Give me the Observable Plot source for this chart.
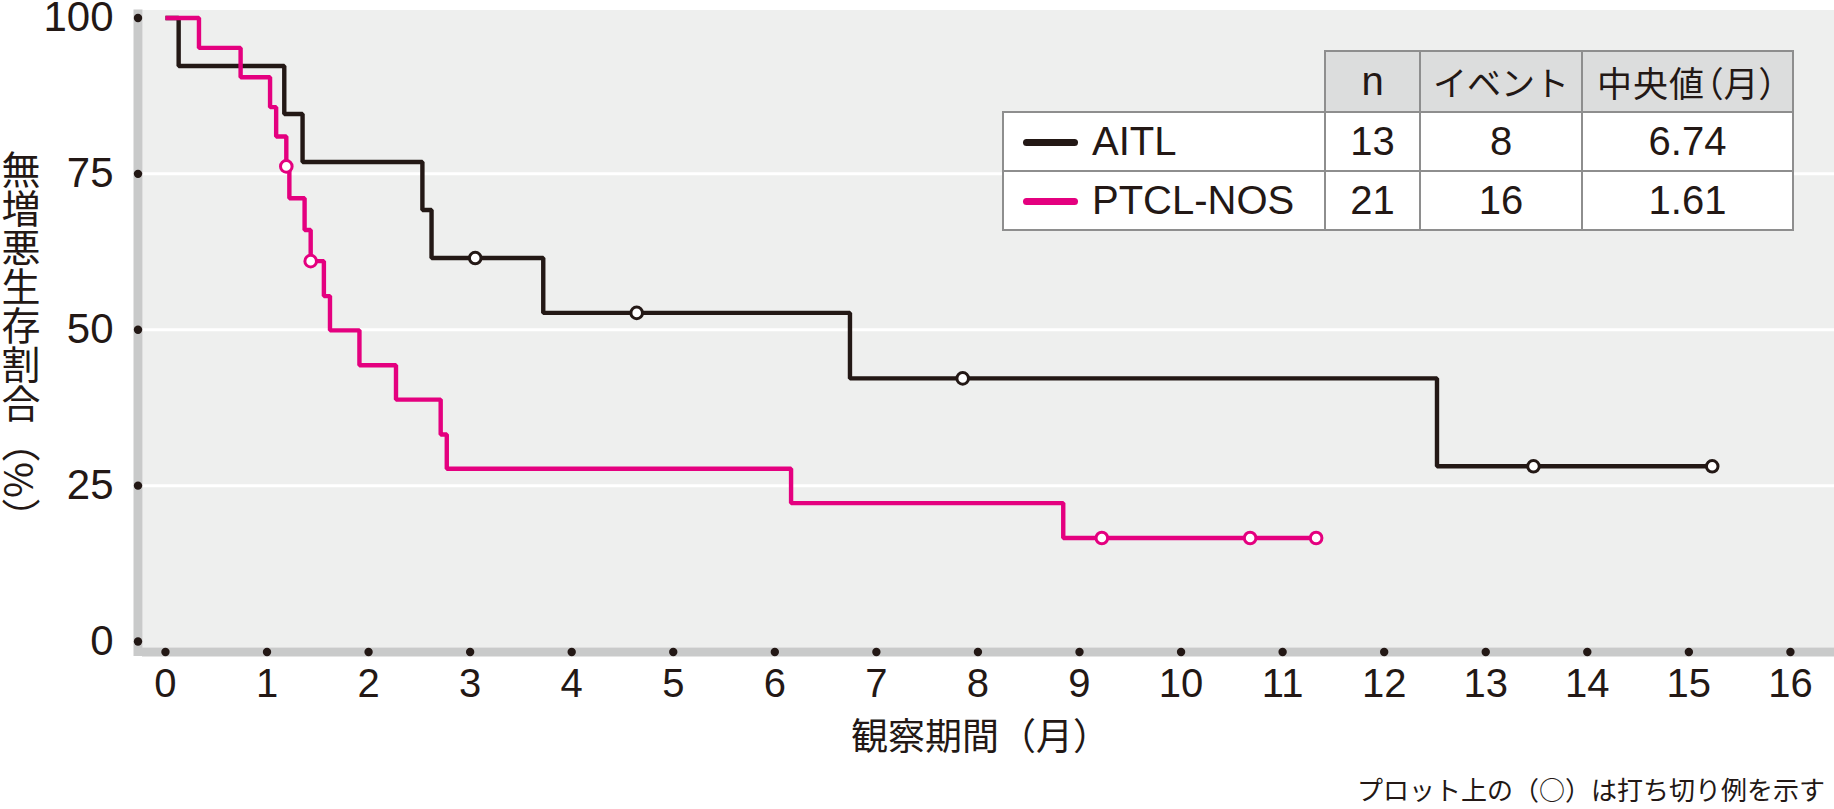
<!DOCTYPE html>
<html>
<head>
<meta charset="utf-8">
<script src="https://cdn.jsdelivr.net/npm/d3@7"></script>
<script src="https://cdn.jsdelivr.net/npm/@observablehq/plot@0.6"></script>
<style>
html, body { margin: 0; padding: 0; background: #fff; }
#wrap { position: relative; width: 1834px; height: 809px; overflow: hidden;
  font-family: "Liberation Sans", "Noto Sans CJK JP", sans-serif; color: #231815; }
#chart svg { display: block; overflow: visible; }
#ylabel { position: absolute; left: 0px; top: 150px; width: 40px; font-size: 39px; line-height: 39px;
  writing-mode: vertical-rl; text-orientation: mixed; font-family: "Noto Sans CJK JP", sans-serif; }
#caption { position: absolute; right: 9px; top: 774px; font-size: 26px; line-height: 30px;
  font-family: "Noto Sans CJK JP", sans-serif; }
#legend { position: absolute; left: 1002px; top: 50px; border-collapse: collapse; table-layout: fixed; }
#legend td, #legend th { border: 2px solid #8e8e8e; padding: 0; text-align: center; font-weight: normal;
  font-size: 40px; color: #231815; box-sizing: border-box; }
#legend th { background: #dcdddd; height: 61px; }
#legend th.cjk { font-family: "Noto Sans CJK JP", sans-serif; font-size: 34px; }
#legend th.cjk.paren { font-size: 35px; font-feature-settings: "palt" 1; letter-spacing: 1px; }
#legend td { background: #fff; height: 59px; }
#legend td.blank { background: transparent; border: none; }
#legend td.lab { text-align: left; padding-left: 19px; }
#legend .sw { display: inline-block; width: 55px; height: 7px; border-radius: 4px; margin-right: 14px; vertical-align: middle; position: relative; top: -2px; }
</style>
</head>
<body>
<div id="wrap">
  <div id="chart"></div>
  <div id="ylabel"></div>
  <div id="caption"></div>
</div>
<script>
// ---- data ----
const xTicks = [0,1,2,3,4,5,6,7,8,9,10,11,12,13,14,15,16];
const yTicks = [0,25,50,75,100];
const gridValues = [25,50,75];
const groups = ["AITL", "PTCL-NOS"];
const colors = ["#231815", "#e4007f"];

// AITL Kaplan-Meier steps (time in months, survival %)
const aitlTime = [0, 0.13, 1.17, 1.35, 2.53, 2.62, 3.72, 6.74, 12.52, 15.23];
const aitlSurv = [100, 92.3, 84.6, 76.9, 69.2, 61.5, 52.7, 42.2, 28.1, 28.1];
const aitlCensorTime = [3.05, 4.64, 7.85, 13.47, 15.23];
const aitlCensorSurv = [61.5, 52.7, 42.2, 28.1, 28.1];

// PTCL-NOS Kaplan-Meier steps
const ptclTime = [0, 0.33, 0.74, 1.03, 1.09, 1.19, 1.22, 1.37, 1.43, 1.56, 1.62, 1.91, 2.27, 2.71, 2.77, 6.16, 8.84, 11.33];
const ptclSurv = [100, 95.2, 90.5, 85.7, 81.0, 76.2, 71.1, 66.0, 61.0, 55.4, 49.9, 44.3, 38.8, 33.2, 27.7, 22.2, 16.6, 16.6];
const ptclCensorTime = [1.19, 1.43, 9.22, 10.68, 11.33];
const ptclCensorSurv = [76.2, 61.0, 16.6, 16.6, 16.6];

// legend table
const tableHeaders = ["n", "イベント", "中央値（月）"];
const nPatients = [13, 21];
const nEvents = [8, 16];
const medians = ["6.74", "1.61"];

const xLabel = "観察期間（月）";
const yLabel = "無増悪生存割合（%）";
const caption = "プロット上の（○）は打ち切り例を示す";

// ---- build ----
const xDomain = [-0.226, 16.434];
const yDomain = [-0.96, 101.28];

const aitlSteps = aitlTime.map((t, i) => ({group: groups[0], time: t, surv: aitlSurv[i]}));
const ptclSteps = ptclTime.map((t, i) => ({group: groups[1], time: t, surv: ptclSurv[i]}));
const aitlCens = aitlCensorTime.map((t, i) => ({group: groups[0], time: t, surv: aitlCensorSurv[i]}));
const ptclCens = ptclCensorTime.map((t, i) => ({group: groups[1], time: t, surv: ptclCensorSurv[i]}));

const chart = Plot.plot({
  width: 1834,
  height: 765,
  marginLeft: 142,
  marginRight: 0,
  marginTop: 9.5,
  marginBottom: 118,
  style: {background: "white", fontFamily: "'Liberation Sans', 'Noto Sans CJK JP', sans-serif", color: "#231815", overflow: "visible"},
  x: {domain: xDomain},
  y: {domain: yDomain},
  marks: [
    Plot.frame({fill: "#eeefee", stroke: "none"}),
    Plot.ruleY(gridValues, {stroke: "#ffffff", strokeWidth: 3}),
    Plot.ruleX([xDomain[0]], {stroke: "#c9caca", strokeWidth: 9, dx: -4.5, insetBottom: -9}),
    Plot.ruleY([yDomain[0]], {stroke: "#c9caca", strokeWidth: 9, dy: 4.5}),
    Plot.dot(yTicks, {y: d => d, frameAnchor: "left", dx: -4.5, r: 4.2, fill: "#231815", stroke: "none"}),
    Plot.dot(xTicks, {x: d => d, frameAnchor: "bottom", dy: 4.5, r: 4.2, fill: "#231815", stroke: "none"}),
    Plot.line(aitlSteps, {x: "time", y: "surv", curve: "step-after", stroke: colors[0], strokeWidth: 4.4, strokeLinejoin: "miter", strokeLinecap: "butt"}),
    Plot.line(ptclSteps, {x: "time", y: "surv", curve: "step-after", stroke: colors[1], strokeWidth: 4.4, strokeLinejoin: "miter", strokeLinecap: "butt"}),
    Plot.dot(aitlCens, {x: "time", y: "surv", r: 5.8, fill: "white", stroke: colors[0], strokeWidth: 3}),
    Plot.dot(ptclCens, {x: "time", y: "surv", r: 5.8, fill: "white", stroke: colors[1], strokeWidth: 3}),
    Plot.axisX({ticks: xTicks, tickSize: 0, tickPadding: 21, fontSize: 40, label: null, tickFormat: d => String(d)}),
    Plot.axisY({ticks: yTicks, tickSize: 0, tickPadding: 29, fontSize: 42, label: null, tickFormat: d => String(d)}),
    Plot.text([xLabel], {frameAnchor: "bottom", dy: 102, dx: -8, fontSize: 37, fill: "#231815", fontFamily: "'Noto Sans CJK JP', sans-serif"})
  ]
});
document.getElementById("chart").appendChild(chart);
document.getElementById("ylabel").textContent = yLabel;
document.getElementById("caption").textContent = caption;

// legend table
const table = document.createElement("table");
table.id = "legend";
const colWidths = [322, 95, 162, 211];
const cg = document.createElement("colgroup");
colWidths.forEach(w => { const c = document.createElement("col"); c.style.width = w + "px"; cg.appendChild(c); });
table.appendChild(cg);
const hr = document.createElement("tr");
const blank = document.createElement("td"); blank.className = "blank"; hr.appendChild(blank);
tableHeaders.forEach(h => {
  const th = document.createElement("th");
  th.textContent = h;
  if (/[^\x00-\x7f]/.test(h)) th.className = "cjk" + (/（/.test(h) ? " paren" : "");
  hr.appendChild(th);
});
table.appendChild(hr);
groups.forEach((g, i) => {
  const tr = document.createElement("tr");
  const lab = document.createElement("td"); lab.className = "lab";
  const sw = document.createElement("span"); sw.className = "sw"; sw.style.background = colors[i];
  lab.appendChild(sw); lab.appendChild(document.createTextNode(g));
  tr.appendChild(lab);
  [nPatients[i], nEvents[i], medians[i]].forEach(v => {
    const td = document.createElement("td"); td.textContent = v; tr.appendChild(td);
  });
  table.appendChild(tr);
});
document.getElementById("wrap").appendChild(table);
</script>
</body>
</html>
